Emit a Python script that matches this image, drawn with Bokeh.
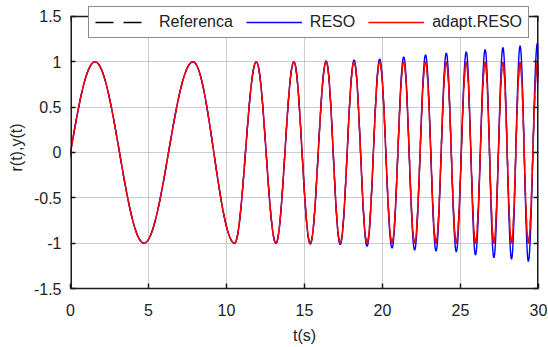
import numpy as np
from bokeh.plotting import figure
from bokeh.models import LinearAxis, FixedTicker, Legend, LegendItem, Range1d
from bokeh.embed import file_html
from bokeh.resources import INLINE

# ---- data ----
x_ticks = [0, 5, 10, 15, 20, 25, 30]
x_tick_labels = ["0", "5", "10", "15", "20", "25", "30"]
y_ticks = [-1.5, -1, -0.5, 0, 0.5, 1, 1.5]
y_tick_labels = ["-1.5", "-1", "-0.5", "0", "0.5", "1", "1.5"]

# times of successive extrema (s)
t_extrema = [-1.571, 1.571, 4.712, 7.854, 10.52, 11.91, 13.17, 14.32, 15.37, 16.39,
             17.29, 18.18, 19.01, 19.82, 20.61, 21.36, 22.06, 22.76, 23.43, 24.09,
             24.73, 25.37, 25.96, 26.58, 27.14, 27.72, 28.27, 28.82, 29.35, 29.93,
             30.45]
# extreme values of each series
ref_extrema = [-1, 1, -1, 1, -1, 1, -1, 1, -1, 1,
               -1, 1, -1, 1, -1, 1, -1, 1, -1, 1,
               -1, 1, -1, 1, -1, 1, -1, 1, -1, 1,
               -1]
reso_extrema = [-1, 1, -1, 1, -1, 1, -1, 1.0, -1.01, 1.01,
                -1.015, 1.02, -1.035, 1.03, -1.053, 1.054, -1.075, 1.076, -1.086, 1.095,
                -1.094, 1.11, -1.13, 1.134, -1.16, 1.156, -1.175, 1.175, -1.2, 1.205,
                -1.22]
adapt_extrema = [-1, 1, -1, 1, -1, 1, -1, 1, -1, 1,
                 -1, 1, -1, 1, -1, 1, -1, 1, -1, 1,
                 -1, 1, -1, 1, -1, 0.995, -0.995, 0.995, -0.995, 0.995,
                 -1]

legend_labels = ["Referenca", "RESO", "adapt.RESO"]


def curve(t_ext, v_ext, n=40):
    """Smooth half-wave shape between successive extrema."""
    ts, vs = [], []
    for i in range(len(t_ext) - 1):
        s = np.linspace(0, 1, n, endpoint=False)
        ts.append(t_ext[i] + (t_ext[i + 1] - t_ext[i]) * s)
        vs.append(0.5 * (v_ext[i] + v_ext[i + 1]) + 0.5 * (v_ext[i] - v_ext[i + 1]) * np.cos(np.pi * s))
    ts.append(np.array([t_ext[-1]]))
    vs.append(np.array([v_ext[-1]]))
    return np.concatenate(ts), np.concatenate(vs)


FONT = "Liberation Sans"
TXT = "#222222"
DARK = "#1a1a1a"

# layout (pixels)
W, H = 548, 347
B_LEFT, B_RIGHT, B_TOP, B_BOTTOM = 70, 10, 6, 59
PX_PER_UNIT = 90.8          # vertical scale of the reference
HEAD = 10                    # room above the plot box for the legend (px)
TICK = 5                     # inward tick length (px)

x0, x1 = x_ticks[0], x_ticks[-1]
y0, y1 = y_ticks[0], y_ticks[-1]
y_top = y1 + HEAD / PX_PER_UNIT

p = figure(width=W, height=H, output_backend="svg", toolbar_location=None,
           x_range=Range1d(x0, x1), y_range=Range1d(y0, y_top),
           min_border_left=B_LEFT, min_border_right=B_RIGHT,
           min_border_top=B_TOP, min_border_bottom=B_BOTTOM)
p.background_fill_color = "white"
p.border_fill_color = "white"
p.outline_line_color = None

p.xgrid.ticker = FixedTicker(ticks=x_ticks)
p.ygrid.ticker = FixedTicker(ticks=y_ticks)
p.grid.grid_line_color = "#9a9a9a"
p.grid.grid_line_dash = "1 1"
p.grid.grid_line_width = 1

tr, vr = curve(t_extrema, ref_extrema)
tb, vb = curve(t_extrema, reso_extrema)
ta, va = curve(t_extrema, adapt_extrema)

r_ref = p.line(tr, vr, line_color="black", line_width=1.3, line_dash="18 10")
r_reso = p.line(tb, vb, line_color="#0000ff", line_width=1.4)
r_adapt = p.line(ta, va, line_color="#ff0000", line_width=1.5)

# plot box: left / right edges (half clipped by the frame, hence double width) and top edge
p.segment(x0=[x0, x1], y0=[y0, y0], x1=[x0, x1], y1=[y1, y1], line_color=DARK, line_width=3)
p.segment(x0=[x0], y0=[y1], x1=[x1], y1=[y1], line_color=DARK, line_width=1.5)
# inward ticks on the top edge
p.segment(x0=x_ticks, y0=[y1] * len(x_ticks), x1=x_ticks,
          y1=[y1 - TICK / PX_PER_UNIT] * len(x_ticks), line_color=DARK, line_width=1.5)

for ax in (p.xaxis[0], p.yaxis[0]):
    ax.major_tick_in = TICK
    ax.major_tick_out = 0
    ax.minor_tick_line_color = None
    ax.major_tick_line_color = DARK
    ax.major_tick_line_width = 1.5
    ax.major_label_text_font = FONT
    ax.major_label_text_font_size = "16px"
    ax.major_label_text_color = TXT
    ax.axis_label_text_font = FONT
    ax.axis_label_text_font_size = "16px"
    ax.axis_label_text_font_style = "normal"
    ax.axis_label_text_color = TXT

p.xaxis[0].axis_line_color = DARK
p.xaxis[0].axis_line_width = 1.5
p.xaxis[0].ticker = FixedTicker(ticks=x_ticks)
p.xaxis[0].major_label_overrides = dict(zip(x_ticks, x_tick_labels))
p.xaxis[0].axis_label = "t(s)"
p.xaxis[0].major_label_standoff = 15
p.xaxis[0].axis_label_standoff = 8

p.yaxis[0].axis_line_color = None
p.yaxis[0].ticker = FixedTicker(ticks=y_ticks)
p.yaxis[0].major_label_overrides = dict(zip(y_ticks, y_tick_labels))
p.yaxis[0].axis_label = "r(t),y(t)"
p.yaxis[0].major_label_standoff = 9
p.yaxis[0].axis_label_standoff = 6

right_ax = LinearAxis(ticker=FixedTicker(ticks=y_ticks),
                      major_label_overrides={t: "" for t in y_ticks},
                      major_label_text_font_size="2px", major_label_text_color=None,
                      major_tick_in=TICK, major_tick_out=0, minor_tick_line_color=None,
                      major_label_standoff=0, axis_line_color=None,
                      major_tick_line_color=DARK, major_tick_line_width=1.5)
p.add_layout(right_ax, "right")

legend = Legend(items=[LegendItem(label=legend_labels[0], renderers=[r_ref]),
                       LegendItem(label=legend_labels[1], renderers=[r_reso]),
                       LegendItem(label=legend_labels[2], renderers=[r_adapt])],
                orientation="horizontal", location=(18, 250))
legend.border_line_color = DARK
legend.border_line_width = 1
legend.background_fill_alpha = 1
legend.label_text_font = FONT
legend.label_text_font_size = "16px"
legend.label_text_color = TXT
legend.glyph_width = 56
legend.glyph_height = 18
legend.label_standoff = 8
legend.spacing = 13
legend.padding = 6
legend.margin = 0
p.add_layout(legend)

open("out.html", "w").write(file_html(p, INLINE))
